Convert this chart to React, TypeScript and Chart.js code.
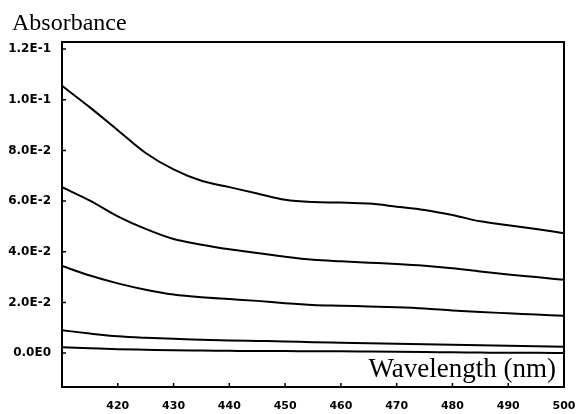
import React, { useEffect, useRef } from "react";
import { Chart, registerables } from "chart.js";

Chart.register(...registerables);

const wavelengths = [410, 415, 420, 425, 430, 435, 440, 445, 450, 455, 460, 465, 470, 475, 480, 485, 490, 495, 500];

const series1 = [0.1055, 0.097, 0.088, 0.079, 0.0725, 0.068, 0.0655, 0.063, 0.0605, 0.0596, 0.0594, 0.059, 0.0578, 0.0565, 0.0545, 0.052, 0.0505, 0.049, 0.0473];
const series2 = [0.0655, 0.0602, 0.054, 0.049, 0.045, 0.0428, 0.041, 0.0395, 0.038, 0.0368, 0.0362, 0.0357, 0.0352, 0.0345, 0.0335, 0.0322, 0.031, 0.03, 0.0289];
const series3 = [0.0344, 0.0306, 0.0275, 0.025, 0.0231, 0.022, 0.0213, 0.0206, 0.0197, 0.019, 0.0187, 0.0184, 0.0181, 0.0176, 0.0168, 0.0162, 0.0157, 0.0152, 0.0147];
const series4 = [0.009, 0.0077, 0.0066, 0.006, 0.0056, 0.0053, 0.005, 0.0048, 0.0046, 0.0043, 0.0041, 0.0039, 0.0037, 0.0035, 0.0033, 0.0031, 0.0029, 0.0027, 0.0025];
const series5 = [0.0023, 0.0019, 0.0015, 0.0013, 0.0011, 0.001, 0.0009, 0.0008, 0.0008, 0.0007, 0.0007, 0.0006, 0.0005, 0.0004, 0.0003, 0.0002, 0.0001, 0.0001, 0.0];

const yTickValues = [0, 0.02, 0.04, 0.06, 0.08, 0.1, 0.12];
const yTickLabels = ["0.0E0", "2.0E-2", "4.0E-2", "6.0E-2", "8.0E-2", "1.0E-1", "1.2E-1"];
const xTickValues = [420, 430, 440, 450, 460, 470, 480, 490, 500];
const xTickLabels = ["420", "430", "440", "450", "460", "470", "480", "490", "500"];

const yAxisTitle = "Absorbance";
const xAxisTitle = "Wavelength (nm)";

const allSeries = [series1, series2, series3, series4, series5];

const framePlugin = {
  id: "frameAndTitles",
  afterDraw(chart: any) {
    const { ctx, chartArea, scales } = chart;
    const { left, top, right, bottom } = chartArea;
    const x = scales.x;
    const y = scales.y;
    ctx.save();
    ctx.strokeStyle = "#000";
    ctx.lineWidth = 2;
    ctx.strokeRect(left, top, right - left, bottom - top);
    ctx.lineWidth = 1.5;
    ctx.beginPath();
    for (const v of yTickValues) {
      const py = y.getPixelForValue(v);
      ctx.moveTo(left, py);
      ctx.lineTo(left + 4, py);
    }
    for (const v of xTickValues) {
      const px = x.getPixelForValue(v);
      ctx.moveTo(px, bottom);
      ctx.lineTo(px, bottom - 4);
    }
    ctx.stroke();
    ctx.fillStyle = "#000";
    ctx.textBaseline = "alphabetic";
    ctx.font = '24px "Liberation Serif"';
    ctx.textAlign = "left";
    ctx.fillText(yAxisTitle, 12, 30);
    ctx.font = '27px "Liberation Serif"';
    ctx.textAlign = "right";
    ctx.fillText(xAxisTitle, 556, 377);
    ctx.restore();
  },
};

export default function App() {
  const canvasRef = useRef<HTMLCanvasElement | null>(null);

  useEffect(() => {
    document.body.style.margin = "0";
    const canvas = canvasRef.current;
    if (!canvas) return;
    const chart = new Chart(canvas, {
      type: "line",
      data: {
        datasets: allSeries.map((s) => ({
          data: wavelengths.map((w, i) => ({ x: w, y: s[i] })),
          borderColor: "#000",
          borderWidth: 2,
          pointRadius: 0,
          fill: false,
          cubicInterpolationMode: "monotone" as const,
        })),
      },
      options: {
        animation: false,
        responsive: false,
        maintainAspectRatio: false,
        layout: { padding: { top: 42, right: 12, left: 0, bottom: 0 } },
        plugins: { legend: { display: false }, tooltip: { enabled: false } },
        scales: {
          x: {
            type: "linear",
            min: 410,
            max: 500,
            grid: { display: false, drawTicks: false },
            border: { display: false },
            afterBuildTicks: (s: any) => {
              s.ticks = xTickValues.map((v) => ({ value: v }));
            },
            afterFit: (s: any) => {
              s.height = 27;
              s.paddingLeft = 0;
              s.paddingRight = 0;
            },
            ticks: {
              padding: 13,
              color: "#000",
              maxRotation: 0,
              autoSkip: false,
              font: { family: "DejaVu Sans", weight: "bold", size: 11 },
              callback: (v: any) => {
                const i = xTickValues.indexOf(Number(v));
                return i >= 0 ? xTickLabels[i] : "";
              },
            },
          },
          y: {
            type: "linear",
            min: -0.0134,
            max: 0.1228,
            grid: { display: false, drawTicks: false },
            border: { display: false },
            afterBuildTicks: (s: any) => {
              s.ticks = yTickValues.map((v) => ({ value: v }));
            },
            afterFit: (s: any) => {
              s.width = 62;
              s.paddingTop = 0;
              s.paddingBottom = 0;
            },
            ticks: {
              padding: 11,
              color: "#000",
              autoSkip: false,
              font: { family: "DejaVu Sans", weight: "bold", size: 12 },
              callback: (v: any) => {
                const i = yTickValues.findIndex((t) => Math.abs(t - Number(v)) < 1e-9);
                return i >= 0 ? yTickLabels[i] : "";
              },
            },
          },
        },
      },
      plugins: [framePlugin],
    });
    return () => chart.destroy();
  }, []);

  return (
    <div style={{ width: 576, height: 414, background: "#fff" }}>
      <canvas ref={canvasRef} width={576} height={414} style={{ display: "block" }} />
    </div>
  );
}
